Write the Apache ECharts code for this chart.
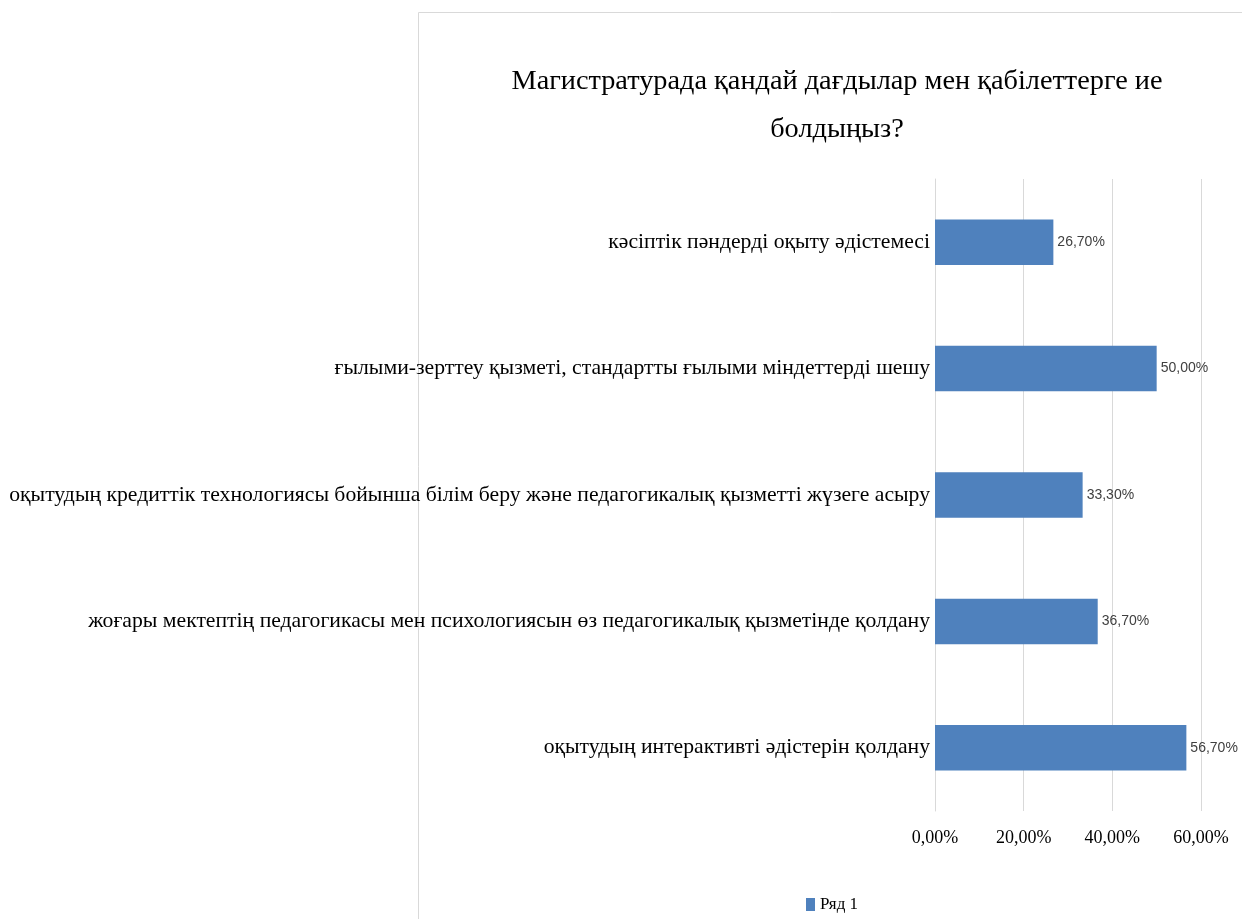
<!DOCTYPE html>
<html>
<head>
<meta charset="utf-8">
<script src="https://cdn.jsdelivr.net/npm/echarts@6/dist/echarts.min.js"></script>
<style>
  html, body { margin: 0; padding: 0; background: #ffffff; }
  #chart { width: 1242px; height: 919px; }
</style>
</head>
<body>
<div id="chart"></div>
<script>
// Skills survey: share of respondents per skill (bottom to top)
const categories = [
  'оқытудың интерактивті әдістерін қолдану',
  'жоғары мектептің педагогикасы мен психологиясын өз педагогикалық қызметінде қолдану',
  'оқытудың кредиттік технологиясы бойынша білім беру және педагогикалық қызметті жүзеге асыру',
  'ғылыми-зерттеу қызметі, стандартты ғылыми міндеттерді шешу',
  'кәсіптік пәндерді оқыту әдістемесі'
];
const values = [56.7, 36.7, 33.3, 50.0, 26.7];
const seriesName = 'Ряд 1';
const titleText = 'Магистратурада қандай дағдылар мен қабілеттерге ие\nболдыңыз?';
const xTicks = [0, 20, 40, 60];

const serif = '"Liberation Serif", "DejaVu Serif", serif';
const fmtPct = v => v.toFixed(2).replace('.', ',') + '%';

const chart = echarts.init(document.getElementById('chart'));
chart.setOption({
  animation: false,
  graphic: [{
    type: 'rect',
    shape: { x: 418.5, y: 12.5, width: 900, height: 1000 },
    style: { fill: 'none', stroke: '#d9d9d9', lineWidth: 1 },
    silent: true,
    z: -1
  }],
  title: {
    text: titleText,
    left: 832,
    top: 53,
    textAlign: 'center',
    textStyle: {
      fontFamily: serif,
      fontWeight: 'normal',
      fontSize: 28.3,
      lineHeight: 48,
      color: '#000000'
    }
  },
  legend: {
    data: [seriesName],
    left: 801,
    top: 891,
    itemWidth: 9,
    itemHeight: 13,
    itemGap: 4,
    icon: 'rect',
    textStyle: { fontFamily: serif, fontSize: 17, color: '#000000', padding: [0, 0, 0, 0] }
  },
  grid: { left: 935, right: 41, top: 179, bottom: 108, containLabel: false },
  xAxis: {
    type: 'value',
    min: xTicks[0],
    max: xTicks[xTicks.length - 1],
    interval: xTicks[1] - xTicks[0],
    axisLine: { show: false },
    axisTick: { show: false },
    splitLine: { lineStyle: { color: '#d9d9d9', width: 1 } },
    axisLabel: {
      margin: 18,
      fontFamily: serif,
      fontSize: 18,
      color: '#000000',
      formatter: v => fmtPct(v)
    }
  },
  yAxis: {
    type: 'category',
    data: categories,
    axisLine: { show: true, lineStyle: { color: '#d9d9d9' } },
    axisTick: { show: false },
    axisLabel: {
      margin: 5,
      fontFamily: serif,
      fontSize: 21.7,
      color: '#000000'
    }
  },
  series: [{
    name: seriesName,
    type: 'bar',
    data: values,
    barWidth: '36%',
    itemStyle: { color: '#4f81bd' },
    label: {
      show: true,
      position: 'right',
      distance: 4,
      fontFamily: '"Liberation Sans", Arial, sans-serif',
      fontSize: 14,
      color: '#404040',
      formatter: p => fmtPct(p.value)
    }
  }]
});
</script>
</body>
</html>
